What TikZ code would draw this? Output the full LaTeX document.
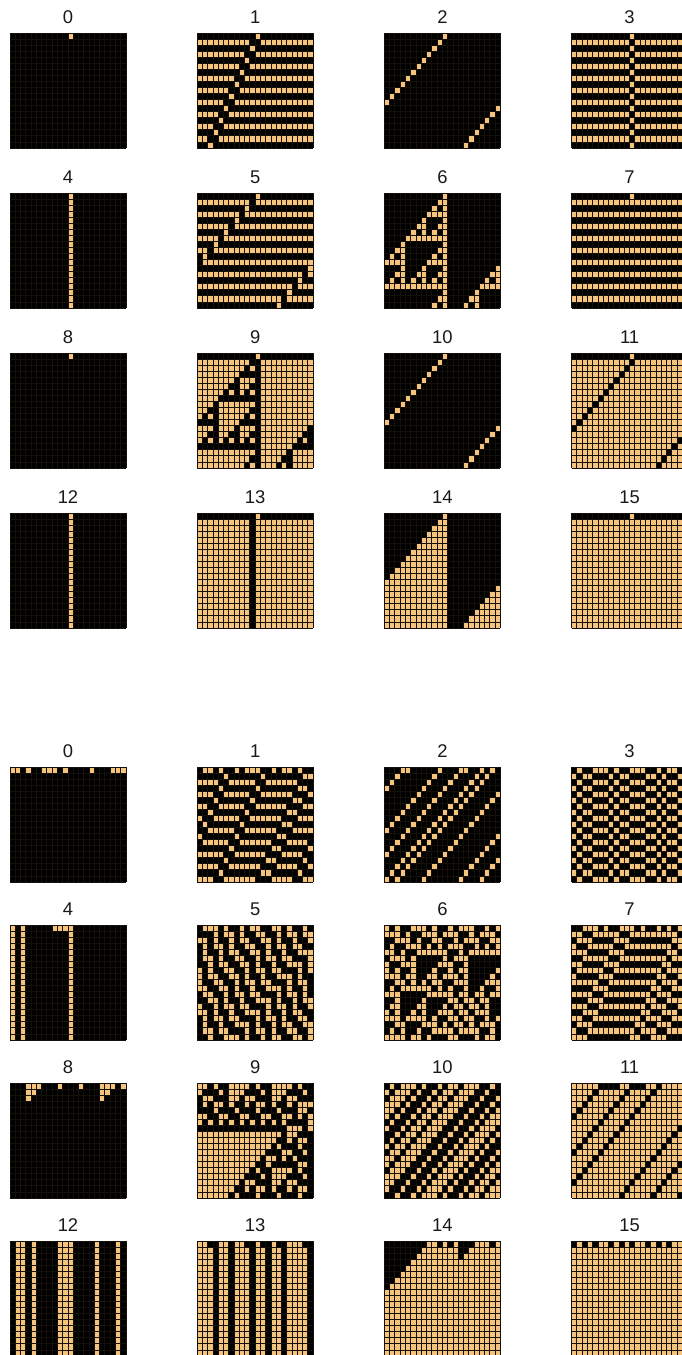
\documentclass[tikz,border=0pt]{standalone}
\usepackage{fontspec}
\setmainfont{Liberation Sans}

\definecolor{cellon}{RGB}{244,196,124}
\definecolor{meshline}{RGB}{22,16,10}

\tikzset{
  panellabel/.style={font=\fontsize{9.2}{9.2}\selectfont, text=black!90, inner sep=0pt},
  oncell/.style={fill=cellon},
  offpanel/.style={fill=black},
  mesh/.style={draw=meshline, line width=0.45pt}
}

\newcount\cellidx
\newcount\rightidx
\def\ncells{22}
\def\cellw{5.2727}
\def\cellh{6.0526}

% rule number -> four output bits
\def\setrule#1{%
  \foreach \k in {0,...,3}{%
    \pgfmathtruncatemacro\b{mod(floor(#1/2^\k),2)}%
    \expandafter\xdef\csname bit\k\endcsname{\b}}}

% store the starting row
\def\storecells#1{\global\cellidx=0 \edef\startrow{#1}\expandafter\storecellsi\startrow\relax}
\def\storecellsi#1{%
  \ifx\relax#1\else
    \expandafter\xdef\csname cur\the\cellidx\endcsname{#1}%
    \global\advance\cellidx by 1
    \expandafter\storecellsi
  \fi}

% one step: new cell from (self, right), cyclic
\def\nextrow{%
  \cellidx=0
  \loop
    \rightidx=\numexpr\cellidx+1\relax
    \ifnum\rightidx=\ncells\relax \rightidx=0 \fi
    \expandafter\xdef\csname new\the\cellidx\endcsname{\csname bit\the\numexpr 2*\csname cur\the\cellidx\endcsname+\csname cur\the\rightidx\endcsname\relax\endcsname}%
    \advance\cellidx by 1
  \ifnum\cellidx<\ncells\relax \repeat
  \cellidx=0
  \loop
    \global\expandafter\let\csname cur\the\cellidx\expandafter\endcsname\csname new\the\cellidx\endcsname
    \advance\cellidx by 1
  \ifnum\cellidx<\ncells\relax \repeat}

% name, rule, start row, left, top
\newcommand\drawpanel[5]{%
  \setrule{#2}%
  \storecells{#3}%
  \fill[offpanel] (#4,#5) rectangle ++(116,115);
  \foreach \r in {0,...,18}{%
    \ifnum\r>0 \nextrow\fi
    \foreach \c in {0,...,21}{%
      \if1\csname cur\c\endcsname
        \fill[oncell] ({#4+\c*\cellw},{#5+\r*\cellh}) rectangle ++(\cellw,\cellh);
      \fi}}%
  \foreach \c in {0,...,22}
    \draw[mesh] ({#4+\c*\cellw},#5) -- ++(0,115);
  \foreach \r in {0,...,19}
    \draw[mesh] (#4,{#5+\r*\cellh}) -- ++(116,0);
  \node[panellabel] (#1) at ({#4+58},{#5-16}) {#2};
}

\begin{document}
\begin{tikzpicture}[x=0.5pt,y=-0.5pt]
\useasboundingbox (0,0) rectangle (681,1355);

% Single cell start
\foreach \n in {0,...,15}{%
  \pgfmathsetmacro\px{10+187.2*mod(\n,4)}
  \pgfmathsetmacro\py{33+160*floor(\n/4)}
  \drawpanel{single-\n}{\n}{0000000000010000000000}{\px}{\py}
}

% Random start
\foreach \n/\start in {
  0/1101001110100001000111, 1/0110100101110010110100,
  2/0001100000100011001010, 3/0100111010011100101101,
  4/1010000011110000000000, 5/0111010010110011010010,
  6/1010011101001011100101, 7/0011101001110100101011,
  8/0001110001000100011101, 9/1101001111010011110100,
  10/0101110100101101110010, 11/1111100001100011011111,
  12/0110100001110000100010, 13/1100110110010010011100,
  14/0000000011010100011101, 15/0101011010101101010110}{%
  \pgfmathsetmacro\px{10+187.2*mod(\n,4)}
  \pgfmathsetmacro\py{767+158*floor(\n/4)}
  \drawpanel{random-\n}{\n}{\start}{\px}{\py}
}

\end{tikzpicture}
\end{document}
